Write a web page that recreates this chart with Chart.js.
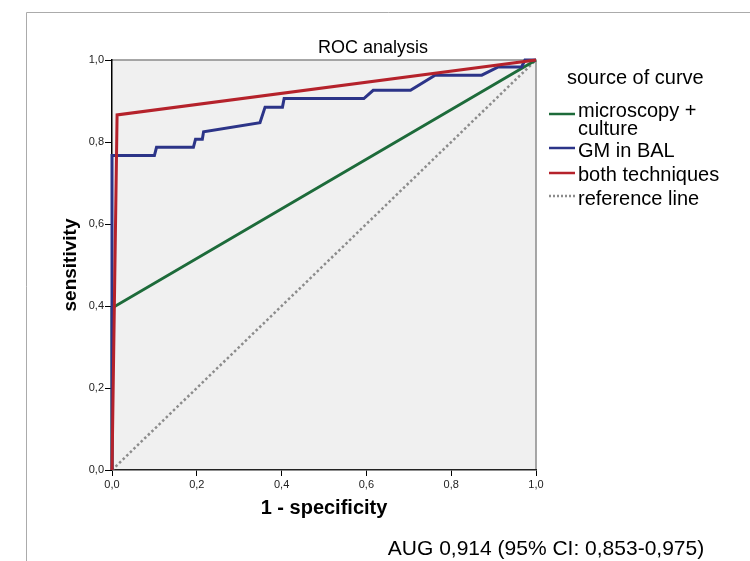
<!DOCTYPE html>
<html>
<head>
<meta charset="utf-8">
<script src="https://cdn.jsdelivr.net/npm/chart.js@4.4.1/dist/chart.umd.min.js"></script>
<style>
  html, body { margin: 0; padding: 0; background: #fff; }
</style>
</head>
<body>
<canvas id="rocChart" width="750" height="561"></canvas>
<script>
// ROC curves: x = 1 - specificity, y = sensitivity
const microX = [0, 0, 1];
const microY = [0, 0.395, 1];
const gmX = [0, 0, 0.100, 0.105, 0.192, 0.197, 0.213, 0.216, 0.349, 0.361, 0.402, 0.406, 0.594, 0.616, 0.704, 0.762, 0.872, 0.911, 0.966, 0.974, 1];
const gmY = [0, 0.767, 0.767, 0.787, 0.787, 0.807, 0.807, 0.825, 0.847, 0.885, 0.885, 0.906, 0.906, 0.926, 0.926, 0.963, 0.963, 0.983, 0.983, 1, 1];
const bothX = [0, 0.012, 1];
const bothY = [0, 0.866, 1];
const refX = [0, 1];
const refY = [0, 1];

const seriesLabels = [['microscopy +', 'culture'], ['GM in BAL'], ['both techniques'], ['reference line']];
const seriesColors = ['#1d6b3a', '#2c3488', '#b5222b', '#8c8c8c'];
const tickValues = [0, 0.2, 0.4, 0.6, 0.8, 1.0];
const chartTitle = 'ROC analysis';
const xTitle = '1 - specificity';
const yTitle = 'sensitivity';
const legendTitle = 'source of curve';
const footText = 'AUG 0,914 (95% CI: 0,853-0,975)';

const FONT = "'Liberation Sans', Arial, sans-serif";

function toPoints(xs, ys) {
    return xs.map((x, i) => ({ x: x, y: ys[i] }));
}

function fmt(v) {
    return v.toFixed(1).replace('.', ',');
}

// background, frame, title, legend and footnote
const decor = {
    id: 'decor',
    beforeDraw(chart) {
        const ctx = chart.ctx, a = chart.chartArea;
        ctx.save();
        ctx.fillStyle = '#fff';
        ctx.fillRect(0, 0, chart.width, chart.height);
        ctx.strokeStyle = '#ababab';
        ctx.lineWidth = 1;
        ctx.beginPath();
        ctx.moveTo(26.5, 561);
        ctx.lineTo(26.5, 12.5);
        ctx.lineTo(750, 12.5);
        ctx.stroke();
        ctx.fillStyle = '#f0f0f0';
        ctx.fillRect(a.left, a.top, a.right - a.left, a.bottom - a.top);
        ctx.strokeStyle = '#8a8a8a';
        ctx.lineWidth = 1.5;
        ctx.beginPath();
        ctx.moveTo(a.left, a.top);
        ctx.lineTo(a.right, a.top);
        ctx.lineTo(a.right, a.bottom);
        ctx.stroke();
        ctx.restore();
    },
    afterDraw(chart) {
        const ctx = chart.ctx;
        ctx.save();
        ctx.fillStyle = '#000';
        ctx.textBaseline = 'alphabetic';

        ctx.font = '18px ' + FONT;
        ctx.textAlign = 'center';
        ctx.fillText(chartTitle, 373, 53);

        ctx.textAlign = 'left';
        ctx.font = '20px ' + FONT;
        ctx.fillText(legendTitle, 567, 84);

        const rows = [
            { lineY: 114, base: [117, 135] },
            { lineY: 148, base: [157] },
            { lineY: 173, base: [181] },
            { lineY: 196, base: [205] }
        ];
        rows.forEach((r, i) => {
            ctx.strokeStyle = seriesColors[i];
            ctx.lineWidth = i === 3 ? 2.5 : 2.5;
            ctx.setLineDash(i === 3 ? [2, 2] : []);
            ctx.beginPath();
            ctx.moveTo(549, r.lineY);
            ctx.lineTo(575, r.lineY);
            ctx.stroke();
            seriesLabels[i].forEach((t, j) => ctx.fillText(t, 578, r.base[j]));
        });
        ctx.setLineDash([]);

        ctx.font = '21px ' + FONT;
        ctx.textAlign = 'center';
        ctx.fillText(footText, 546, 555);
        ctx.restore();
    }
};

const ctx = document.getElementById('rocChart').getContext('2d');
const rocChart = new Chart(ctx, {
    type: 'scatter',
    data: {
        datasets: [
            { label: seriesLabels[0].join(' '), data: toPoints(microX, microY), borderColor: seriesColors[0], order: 2 },
            { label: seriesLabels[1].join(' '), data: toPoints(gmX, gmY), borderColor: seriesColors[1], order: 1 },
            { label: seriesLabels[2].join(' '), data: toPoints(bothX, bothY), borderColor: seriesColors[2], order: 0 },
            { label: seriesLabels[3].join(' '), data: toPoints(refX, refY), borderColor: seriesColors[3], borderWidth: 2.5, borderDash: [2.5, 2.5], order: 3 }
        ]
    },
    options: {
        responsive: false,
        animation: false,
        devicePixelRatio: 1,
        layout: { padding: { left: 52, top: 60, right: 214, bottom: 31 } },
        datasets: {
            scatter: {
                showLine: true,
                borderWidth: 3,
                pointRadius: 0,
                pointHoverRadius: 0,
                tension: 0,
                clip: false
            }
        },
        plugins: {
            legend: { display: false },
            tooltip: { enabled: false },
            title: { display: false }
        },
        scales: {
            x: {
                type: 'linear',
                min: 0,
                max: 1,
                afterFit: axis => { axis.height = 60; },
                afterBuildTicks: axis => { axis.ticks = tickValues.map(v => ({ value: v })); },
                grid: { drawOnChartArea: false, tickLength: 6, tickColor: '#000' },
                border: { color: '#222', width: 1.5 },
                ticks: { padding: 2, color: '#222', font: { family: FONT, size: 11 }, callback: v => fmt(v), maxRotation: 0 },
                title: { display: true, text: xTitle, color: '#000', padding: { top: 0, bottom: 10 }, font: { family: FONT, size: 20, weight: 'bold' } }
            },
            y: {
                type: 'linear',
                min: 0,
                max: 1,
                afterFit: axis => { axis.width = 60; },
                afterBuildTicks: axis => { axis.ticks = tickValues.map(v => ({ value: v })); },
                grid: { drawOnChartArea: false, tickLength: 7, tickColor: '#000' },
                border: { color: '#000', width: 1.5 },
                ticks: { padding: 1, color: '#222', font: { family: FONT, size: 11 }, callback: v => fmt(v) },
                title: { display: true, text: yTitle, color: '#000', padding: { top: 7, bottom: 0 }, font: { family: FONT, size: 19, weight: 'bold' } }
            }
        }
    },
    plugins: [decor]
});
</script>
</body>
</html>
